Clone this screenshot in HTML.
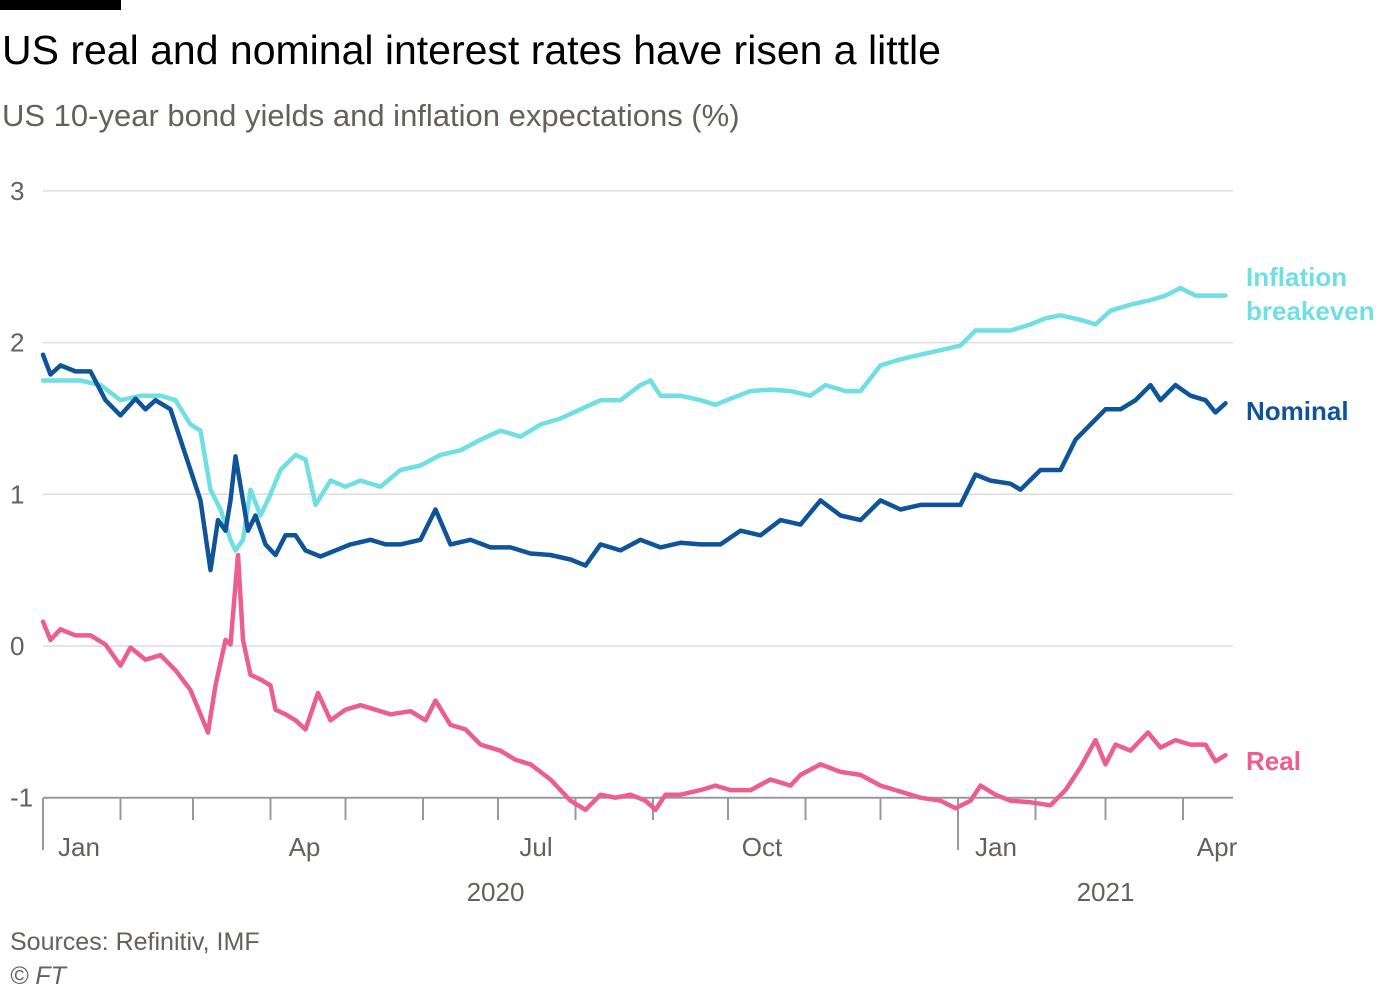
<!DOCTYPE html>
<html><head><meta charset="utf-8"><style>
body{margin:0;background:#fff;width:1400px;height:992px;overflow:hidden;font-family:"Liberation Sans",sans-serif;}
</style></head><body>
<svg width="1400" height="992">
<rect x="0" y="0" width="121" height="10" fill="#000"/>
<text x="2" y="64" font-size="41" fill="#000">US real and nominal interest rates have risen a little</text>
<text x="2" y="126" font-size="31" fill="#66605c">US 10-year bond yields and inflation expectations (%)</text>
<g id="grid"></g><g id="xaxis"></g><g id="series"></g>
<text x="1246" y="286" font-size="26" font-weight="bold" fill="#6fdfe3">Inflation</text>
<text x="1246" y="320" font-size="26" font-weight="bold" fill="#6fdfe3">breakeven</text>
<text x="1246" y="420" font-size="26" font-weight="bold" fill="#0f5499">Nominal</text>
<text x="1246" y="770" font-size="26" font-weight="bold" fill="#eb5e8d">Real</text>
<text x="10" y="950" font-size="25" fill="#66605c">Sources: Refinitiv, IMF</text>
<text x="10" y="984" font-size="25" fill="#66605c" font-style="italic">© FT</text>
</svg>
<script>
const yTicks=[3,2,1,0,-1];
const monthDays=[0,31,60,91,121,152,182,213,244,274,305,335,366,397,425,456];
const monthLabels=[{d:0,t:"Jan"},{d:91,t:"Ap"},{d:182,t:"Jul"},{d:274,t:"Oct"},{d:366,t:"Jan"},{d:456,t:"Apr"}];
const yearLabels=[{d:181,t:"2020"},{d:425,t:"2021"}];
const nomDays=[0,3,7,13,19,25,31,37,41,45,51,55,59,63,67,70,73,75,77,80,82,85,89,93,97,101,105,111,117,123,131,137,143,151,157,163,171,179,187,195,203,211,217,223,231,239,247,255,263,271,279,287,295,303,311,319,327,335,343,351,359,367,373,379,387,391,399,407,413,419,425,431,437,443,447,453,459,465,469,473];
const nominal=[1.92,1.79,1.85,1.81,1.81,1.62,1.52,1.63,1.56,1.62,1.56,1.36,1.16,0.96,0.50,0.83,0.76,0.96,1.25,0.96,0.76,0.86,0.67,0.60,0.73,0.73,0.63,0.59,0.63,0.67,0.70,0.67,0.67,0.70,0.90,0.67,0.70,0.65,0.65,0.61,0.60,0.57,0.53,0.67,0.63,0.70,0.65,0.68,0.67,0.67,0.76,0.73,0.83,0.80,0.96,0.86,0.83,0.96,0.90,0.93,0.93,0.93,1.13,1.09,1.07,1.03,1.16,1.16,1.36,1.46,1.56,1.56,1.62,1.72,1.62,1.72,1.65,1.62,1.54,1.60];
const beDays=[0,7,15,23,31,39,47,53,59,63,67,71,75,77,80,83,87,91,95,101,105,109,115,121,127,135,143,151,159,167,175,183,191,199,207,215,223,231,239,243,247,255,263,269,275,283,291,299,307,313,321,327,335,343,351,359,367,373,379,387,395,401,407,415,421,427,435,443,449,455,461,467,473];
const breakeven=[1.75,1.75,1.75,1.72,1.62,1.65,1.65,1.62,1.46,1.42,1.03,0.90,0.70,0.63,0.70,1.03,0.86,1.00,1.16,1.26,1.23,0.93,1.09,1.05,1.09,1.05,1.16,1.19,1.26,1.29,1.36,1.42,1.38,1.46,1.50,1.56,1.62,1.62,1.72,1.75,1.65,1.65,1.62,1.59,1.63,1.68,1.69,1.68,1.65,1.72,1.68,1.68,1.85,1.89,1.92,1.95,1.98,2.08,2.08,2.08,2.12,2.16,2.18,2.15,2.12,2.21,2.25,2.28,2.31,2.36,2.31,2.31,2.31];
const realDays=[0,3,7,13,19,25,31,35,41,47,53,59,63,66,69,73,75,78,80,83,87,91,93,97,101,105,110,115,121,127,133,139,147,153,157,163,169,175,183,189,195,203,211,217,223,229,235,241,245,249,255,263,269,275,283,291,299,303,311,319,327,335,343,351,359,365,371,375,381,387,395,403,409,415,421,425,429,435,442,447,453,459,465,469,473];
const real=[0.16,0.04,0.11,0.07,0.07,0.01,-0.13,-0.01,-0.09,-0.06,-0.16,-0.29,-0.45,-0.57,-0.26,0.04,0.01,0.60,0.04,-0.19,-0.22,-0.26,-0.42,-0.45,-0.49,-0.55,-0.31,-0.49,-0.42,-0.39,-0.42,-0.45,-0.43,-0.49,-0.36,-0.52,-0.55,-0.65,-0.69,-0.75,-0.78,-0.88,-1.02,-1.08,-0.98,-1.00,-0.98,-1.02,-1.08,-0.98,-0.98,-0.95,-0.92,-0.95,-0.95,-0.88,-0.92,-0.85,-0.78,-0.83,-0.85,-0.92,-0.96,-1.00,-1.02,-1.07,-1.02,-0.92,-0.98,-1.02,-1.03,-1.05,-0.95,-0.80,-0.62,-0.78,-0.65,-0.69,-0.57,-0.67,-0.62,-0.65,-0.65,-0.76,-0.72];
const NS="http://www.w3.org/2000/svg";
const xS=d=>43+d*2.5;
const yS=v=>646-v*151.7;
function mk(tag,attrs,parent){const e=document.createElementNS(NS,tag);for(const k in attrs)e.setAttribute(k,attrs[k]);parent.appendChild(e);return e;}
const grid=document.getElementById('grid');
yTicks.forEach(v=>{
 const l=mk('line',{x1:43,x2:1233,y1:yS(v),y2:yS(v),stroke:v===-1?'#999':'#e0dcd8','stroke-width':v===-1?2:1.5},grid);
 
 
 const t=mk('text',{x:10,y:yS(v)+9,'font-size':26,fill:'#66605c'},grid);
 t.textContent=v;
 
 
});
const xa=document.getElementById('xaxis');
monthDays.forEach(d=>{
 const long=(d===0||d===366);
 const l=mk('line',{x1:xS(d),x2:xS(d),y1:798,y2:long?850:820,stroke:'#999','stroke-width':2},xa);
 
 
});
monthLabels.forEach(m=>{
 const t=mk('text',{x:xS(m.d)+(m.d===456?34:m.d===0?36:m.d===366?38:m.d===182?38:34),y:856,'font-size':26,fill:'#66605c','text-anchor':'middle'},xa);
 t.textContent=m.t;
 
 
});
yearLabels.forEach(m=>{
 const t=mk('text',{x:xS(m.d),y:901,'font-size':26,fill:'#66605c','text-anchor':'middle'},xa);
 t.textContent=m.t;
 
 
});
const sg=document.getElementById('series');
function line(days,vals,color,name){
 const n=Math.min(days.length,vals.length);
 let d='';
 for(let i=0;i<n;i++)d+=(i?'L':'M')+xS(days[i]).toFixed(1)+','+yS(vals[i]).toFixed(1);
 const p=mk('path',{d:d,fill:'none',stroke:color,'stroke-width':4.5,'stroke-linejoin':'round','stroke-linecap':'round'},sg);
 
 
}
line(beDays,breakeven,'#6fdfe3','breakeven-line');
line(nomDays,nominal,'#0f5499','nominal-line');
line(realDays,real,'#eb5e8d','real-line');
</script>
</body></html>
